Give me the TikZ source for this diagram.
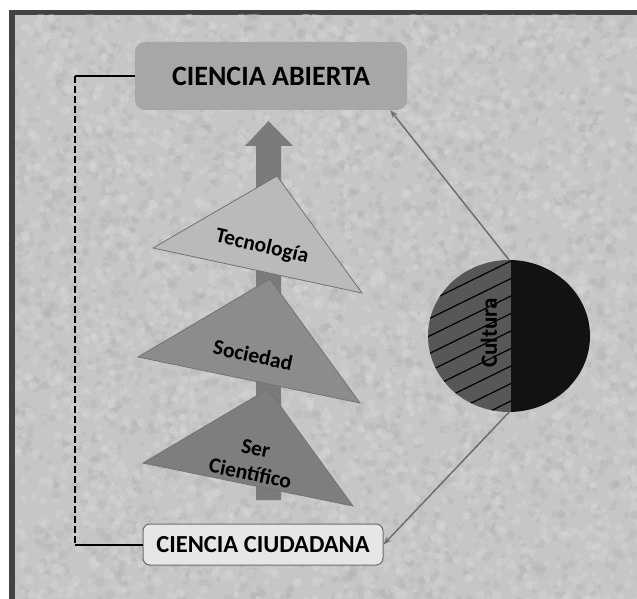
\documentclass[tikz,border=0pt]{standalone}
\usepackage{fontspec}
\setmainfont{Carlito}
\usetikzlibrary{arrows.meta,shapes.geometric}
\definecolor{bgc}{HTML}{C6C6C6}
\definecolor{bgdark}{HTML}{B2B2B2}
\definecolor{bglight}{HTML}{DADADA}
\definecolor{framec}{HTML}{434343}
\definecolor{boxA}{HTML}{A7A7A7}
\definecolor{boxC}{HTML}{E6E6E6}
\definecolor{triT}{HTML}{BABABA}
\definecolor{triS}{HTML}{8C8C8C}
\definecolor{triC}{HTML}{7E7E7E}
\definecolor{arrowc}{HTML}{7B7B7B}
\definecolor{cleft}{HTML}{575757}
\definecolor{cright}{HTML}{121212}
\definecolor{connc}{HTML}{6E6E6E}
\tikzset{
  titlebox/.style={rounded corners=10pt, fill=boxA, minimum width=272pt, minimum height=68pt,
    inner sep=0pt, font=\bfseries\fontsize{28}{30}\selectfont},
  citybox/.style={rounded corners=7pt, fill=boxC, draw=connc, line width=1pt, minimum width=240pt,
    minimum height=41pt, inner sep=0pt, font=\bfseries\fontsize{24.5}{26}\selectfont},
  tri/.style={draw=black!55, line width=0.8pt},
  trilabel/.style={font=\bfseries\fontsize{21.5}{26}\selectfont, align=center, inner sep=0pt},
  conn/.style={draw=connc, line width=1.5pt, -{Stealth[length=8pt,width=6pt]}},
  link/.style={draw=black, line width=2pt},
}
\begin{document}
\begin{tikzpicture}[x=1pt,y=-1pt]
\useasboundingbox (0,0) rectangle (637,599);
\fill[white] (0,0) rectangle (637,599);
\fill[framec] (9,10) rectangle (637,599);
\fill[bgc] (15,15) rectangle (637,599);
% mottled paper texture
\begin{scope}
  \clip (15,15) rectangle (637,599);
  \pgfmathsetseed{7}
  \foreach \i in {1,...,2600} {
    \pgfmathsetmacro\px{15+rnd*625}
    \pgfmathsetmacro\py{15+rnd*587}
    \pgfmathsetmacro\pr{2+rnd*3}
    \fill[bgdark, opacity=0.35] (\px,\py) circle (\pr pt);
  }
  \foreach \i in {1,...,2600} {
    \pgfmathsetmacro\px{15+rnd*625}
    \pgfmathsetmacro\py{15+rnd*587}
    \pgfmathsetmacro\pr{2+rnd*3}
    \fill[bglight, opacity=0.35] (\px,\py) circle (\pr pt);
  }
\end{scope}

% boxes
\node[titlebox] (abierta) at (271,76) {CIENCIA ABIERTA};
\node[citybox] (ciudadana) at (263,544.5) {CIENCIA CIUDADANA};

% big upward arrow
\fill[arrowc] (256,500) -- (256,146) -- (245,146) -- (268.5,121) -- (293,146) -- (281,146) -- (281,500) -- cycle;

% triangles
\filldraw[tri, fill=triT] (277,176) -- (153,248) -- (362,293) -- cycle;
\node[trilabel, rotate=-13] (tec) at (262,247) {Tecnología};
\filldraw[tri, fill=triS] (270,279) -- (138,357) -- (360,403) -- cycle;
\node[trilabel, rotate=-12] (soc) at (253,355) {Sociedad};
\filldraw[tri, fill=triC] (268,389) -- (143,463) -- (353,506) -- cycle;
\node[trilabel, rotate=-12] (ser) at (253,461) {Ser\\Científico};

% culture circle
\node[ellipse, minimum width=162pt, minimum height=152pt, inner sep=0pt] (circ) at (509,336) {};
\begin{scope}
  \clip (509,336) ellipse [x radius=81pt, y radius=76pt];
  \fill[cleft] (420,250) rectangle (511,420);
  \fill[cright] (511,250) rectangle (600,420);
  \begin{scope}
    \clip (420,250) rectangle (511,420);
    \foreach \k in {0,...,10} {
      \draw[black, line width=1.2pt] (511,{243.5+17.5*\k}) -- ++(-110,54);
    }
  \end{scope}
\end{scope}
\node[font=\bfseries\fontsize{23}{25}\selectfont, rotate=90, inner sep=0pt] (cult) at (489,333) {Cultura};

% connectors
\draw[conn] (circ.north) -- (abierta.-16.7);
\draw[conn] (circ.south) -- (ciudadana.east);

% dashed feedback link
\coordinate (d1) at (75,76);
\coordinate (d2) at (75,544.5);
\draw[link] (abierta.west) -- (d1);
\draw[link, dash pattern=on 7pt off 3pt] (d1) -- (d2);
\draw[link] (d2) -- (ciudadana.west);
\end{tikzpicture}
\end{document}
